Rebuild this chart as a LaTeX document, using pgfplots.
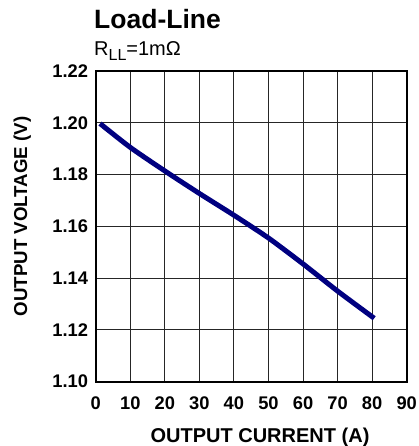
\documentclass[border=0pt]{standalone}
\usepackage{fontspec}
\setmainfont{Liberation Sans}
\usepackage{pgfplots}
\pgfplotsset{compat=1.18}
\definecolor{navyline}{RGB}{0,0,128}
\begin{document}
\begin{tikzpicture}[x=1pt,y=1pt]
\useasboundingbox (0,0) rectangle (419,446);
\begin{axis}[
  at={(95.7pt,64.3pt)}, anchor=south west,
  scale only axis, width=311pt, height=310.7pt,
  xmin=0, xmax=90, ymin=1.10, ymax=1.22,
  xtick={0,10,...,90},
  ytick={1.10,1.12,1.14,1.16,1.18,1.20,1.22},
  grid=major,
  major grid style={line width=1pt, color=black!85},
  axis line style={line width=1.7pt},
  major tick length=0pt,
  tick label style={font=\fontsize{18.3}{18}\selectfont\bfseries, inner sep=0pt},
  /pgf/number format/assume math mode=true,
  yticklabel style={/pgf/number format/.cd, fixed, fixed zerofill, precision=2, /tikz/.cd, xshift=-7.4pt},
  xticklabel style={yshift=-15pt},
]
\addplot[navyline, line width=5pt, line cap=butt, line join=round, smooth, tension=0.4] coordinates {
(1.25,1.1997) (10,1.1905) (20,1.1814) (30,1.1727) (40,1.1643) (50,1.1555) (60,1.1455) (70,1.1350) (80.6,1.1245)};
\end{axis}
\node[anchor=base west, inner sep=0pt, font=\fontsize{26.5}{27}\selectfont\bfseries] at (94,417) {Load-Line};
\node[anchor=base west, inner sep=0pt, font=\fontsize{20}{20}\selectfont] at (94,390) {R\raisebox{-5pt}{\fontsize{16}{16}\selectfont LL}=1mΩ};
\node[anchor=base, inner sep=0pt, rotate=90, font=\fontsize{18.7}{19}\selectfont\bfseries] at (27,229.5) {OUTPUT VOLTAGE (V)};
\node[anchor=base, inner sep=0pt, font=\fontsize{20}{20}\selectfont\bfseries] at (260,3.5) {OUTPUT CURRENT (A)};
\end{tikzpicture}
\end{document}
